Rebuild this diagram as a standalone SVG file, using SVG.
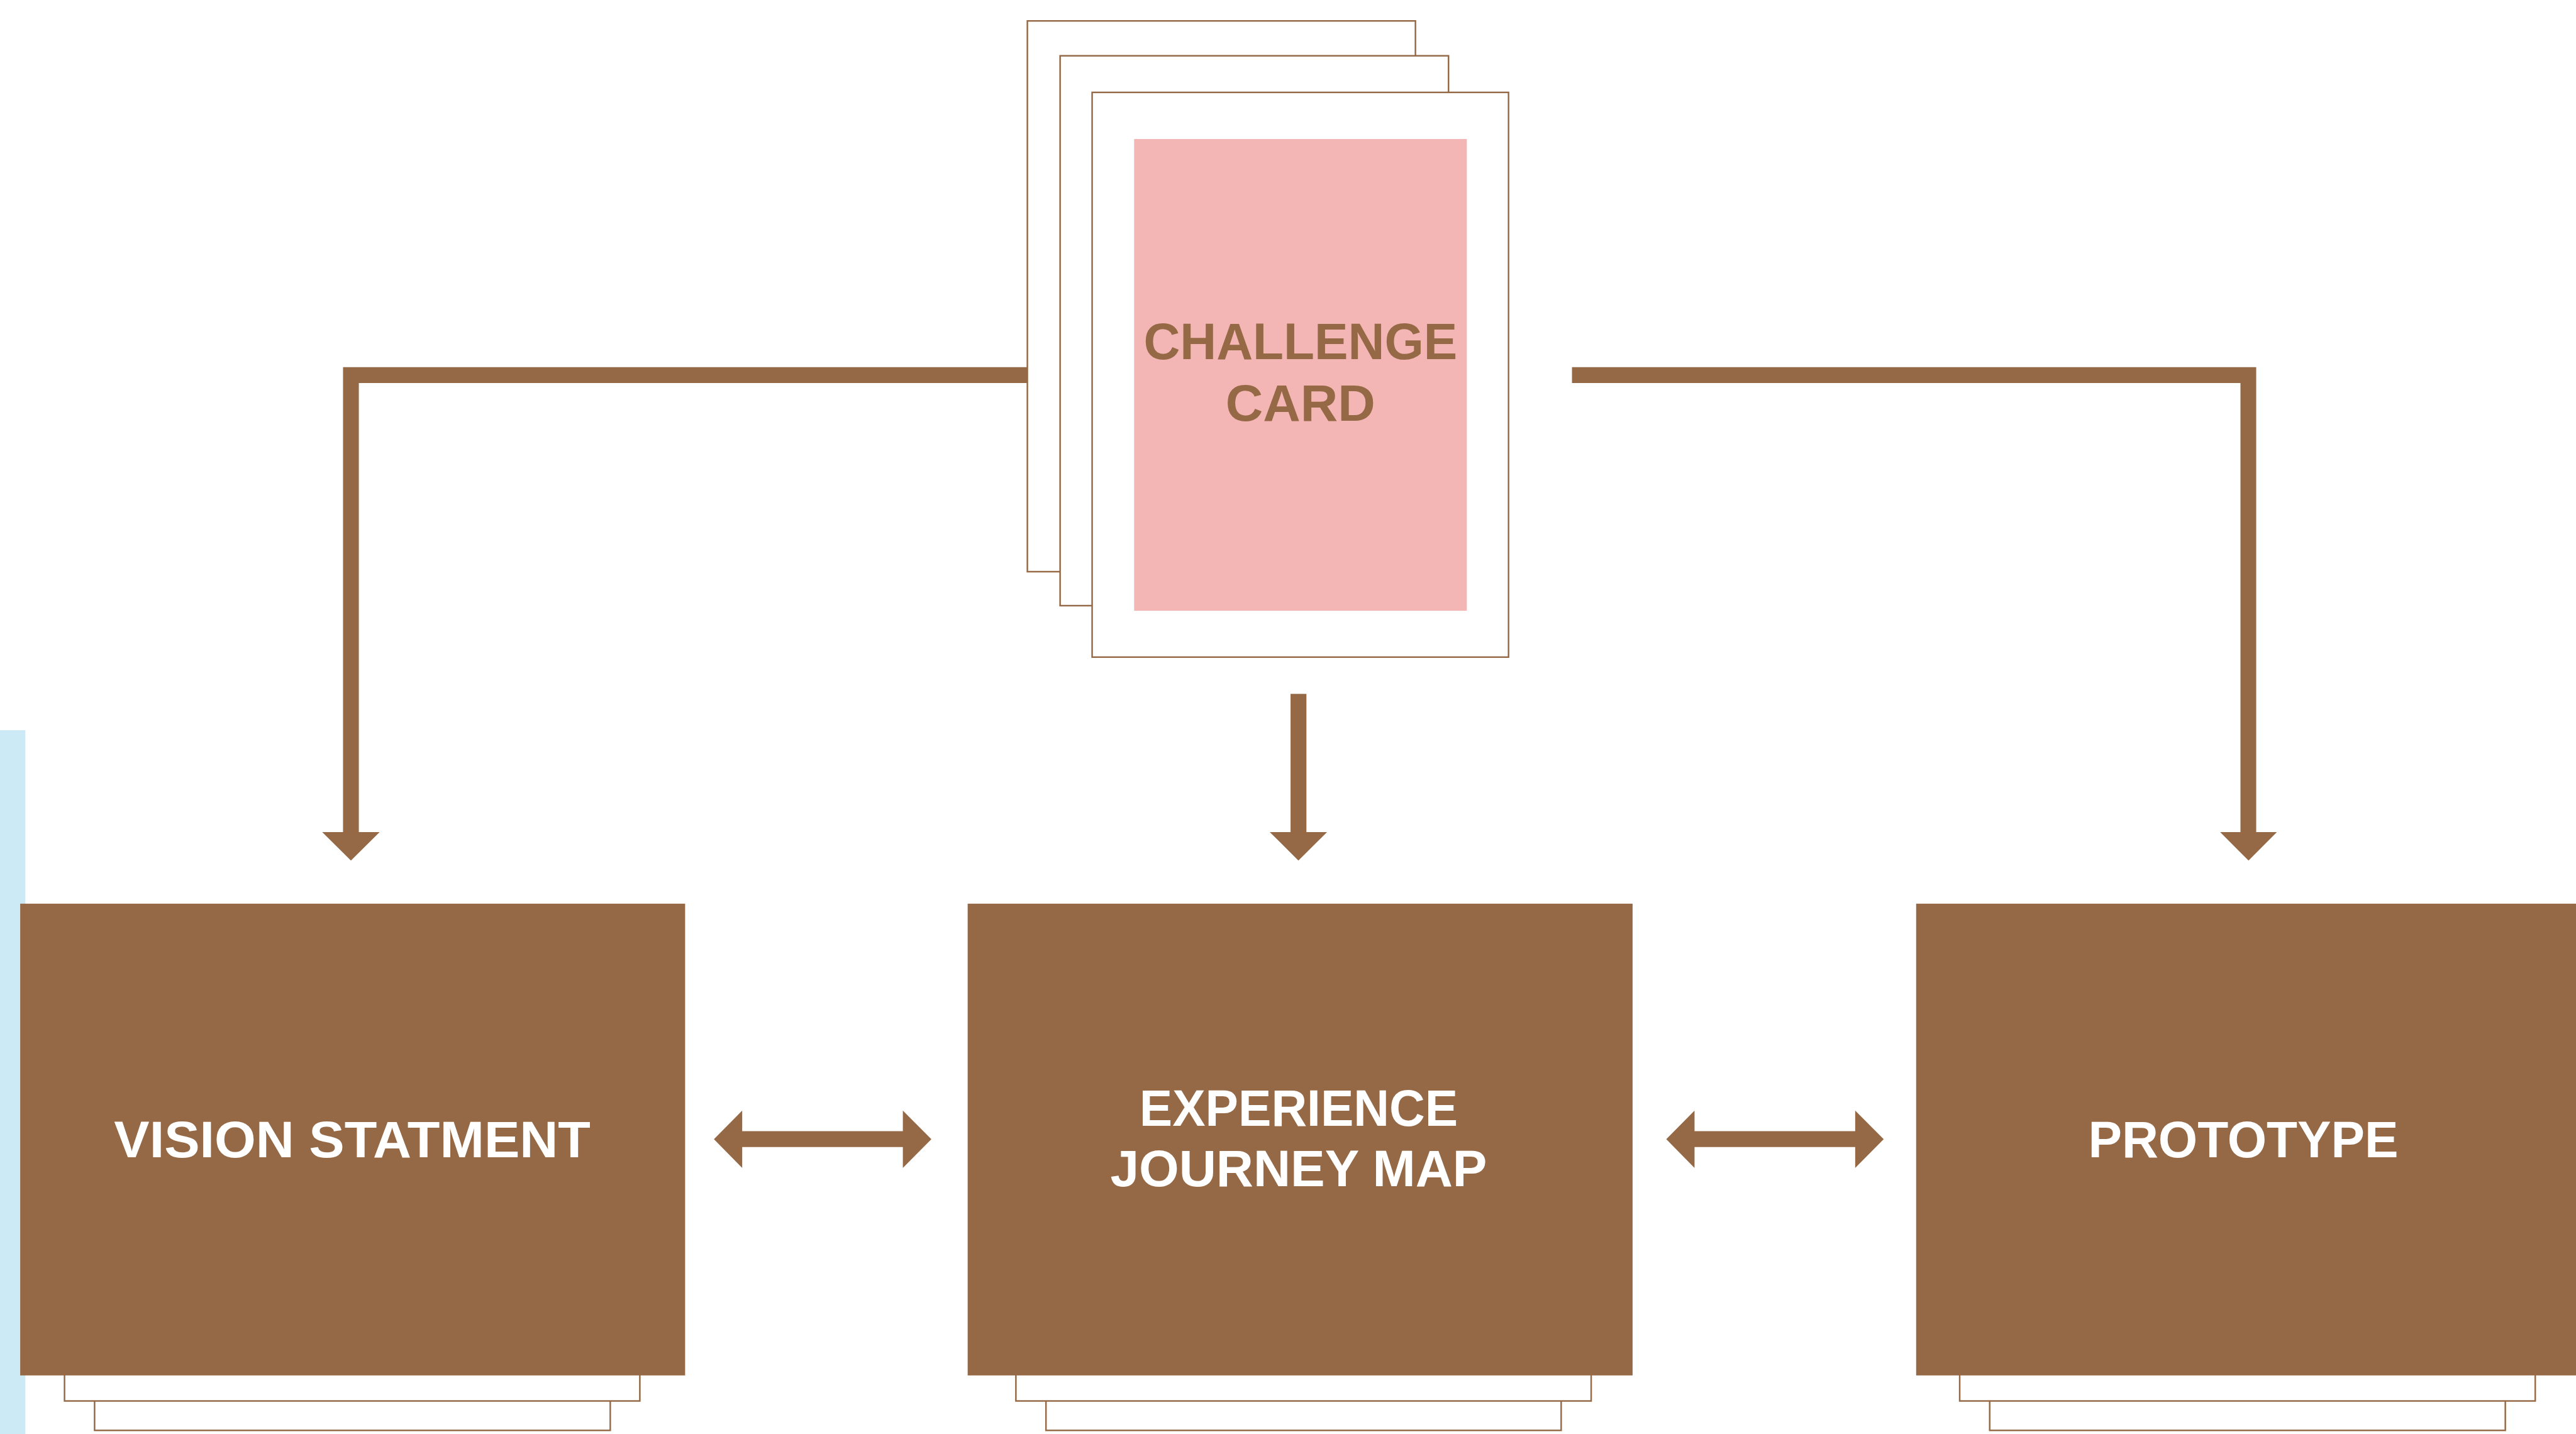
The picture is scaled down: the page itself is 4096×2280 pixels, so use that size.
<svg xmlns="http://www.w3.org/2000/svg" width="4096" height="2280" viewBox="0 0 4096 2280">
<style>
.card{fill:#ffffff;stroke:#956945;stroke-width:2.6}
.stack{fill:#ffffff;stroke:#956945;stroke-width:2.6}
.box{fill:#956945}
.conn{fill:#956945}
.lbl{font-family:"Liberation Sans",Arial,sans-serif;font-weight:bold;font-size:86px;text-anchor:middle}
.w{fill:#ffffff}
.b{fill:#956945}
</style>
<rect x="0" y="0" width="4096" height="2280" fill="#ffffff"/>
<g transform="scale(0.94465)">
<rect id="side-bar" x="0" y="1229" width="42.7" height="1200" fill="#cbeaf6"/>
<g id="connectors">
<path class="conn" d="M577.4,618 H1729.3 V644.8 H604 V1400.5 H639 L590.7,1448.5 L542.4,1400.5 H577.4 Z"/>
<path class="conn" d="M2646,618 H3797.7 V1400.5 H3832.5 L3784.8,1448.5 L3737,1400.5 H3771.2 V644.8 H2646 Z"/>
<path class="conn" d="M2172.3,1168 H2199 V1400.5 H2233.7 L2185.5,1448.3 L2137.3,1400.5 H2172.3 Z"/>
<path class="conn" d="M1201.7,1917.3 L1249.3,1869.3 V1904 H1519.7 V1869.3 L1567.7,1917.3 L1519.7,1965.7 V1930.7 H1249.3 V1965.7 Z"/>
<path class="conn" d="M2804.7,1917.3 L2852.3,1869.3 V1904 H3122.7 V1869.3 L3170.7,1917.3 L3122.7,1965.7 V1930.7 H2852.3 V1965.7 Z"/>
</g>
<g id="challenge-card">
<rect class="card" x="1729.3" y="35.2" width="653.2" height="927"/>
<rect class="card" x="1784.4" y="93.9" width="653.8" height="925.5"/>
<rect class="card" x="1838.3" y="155.5" width="700.9" height="950.5"/>
<rect x="1909" y="234" width="560" height="794" fill="#f4b5b5"/>
<text class="lbl b" x="2189" y="605" textLength="528" lengthAdjust="spacingAndGlyphs">CHALLENGE</text>
<text class="lbl b" x="2189" y="708" textLength="252" lengthAdjust="spacingAndGlyphs">CARD</text>
</g>
<g id="vision-statement">
<rect class="stack" x="159.2" y="2330" width="868" height="77.5"/>
<rect class="stack" x="108.6" y="2290" width="968.4" height="68"/>
<rect class="box" x="34" y="1521" width="1119.2" height="794"/>
<text class="lbl w" x="593" y="1948" textLength="802" lengthAdjust="spacingAndGlyphs">VISION STATMENT</text>
</g>
<g id="experience-journey-map">
<rect class="stack" x="1760.6" y="2330" width="867.2" height="77.5"/>
<rect class="stack" x="1710" y="2290" width="968.3" height="68"/>
<rect class="box" x="1628.8" y="1521" width="1119.2" height="794"/>
<text class="lbl w" x="2186" y="1894.5" textLength="536" lengthAdjust="spacingAndGlyphs">EXPERIENCE</text>
<text class="lbl w" x="2186" y="1997" textLength="634" lengthAdjust="spacingAndGlyphs">JOURNEY MAP</text>
</g>
<g id="prototype">
<rect class="stack" x="3349.1" y="2330" width="867.9" height="77.5"/>
<rect class="stack" x="3298.6" y="2290" width="968.8" height="68"/>
<rect class="box" x="3225.3" y="1521" width="1119.2" height="794"/>
<text class="lbl w" x="3776" y="1947.5" textLength="522" lengthAdjust="spacingAndGlyphs">PROTOTYPE</text>
</g>
</g>
</svg>
